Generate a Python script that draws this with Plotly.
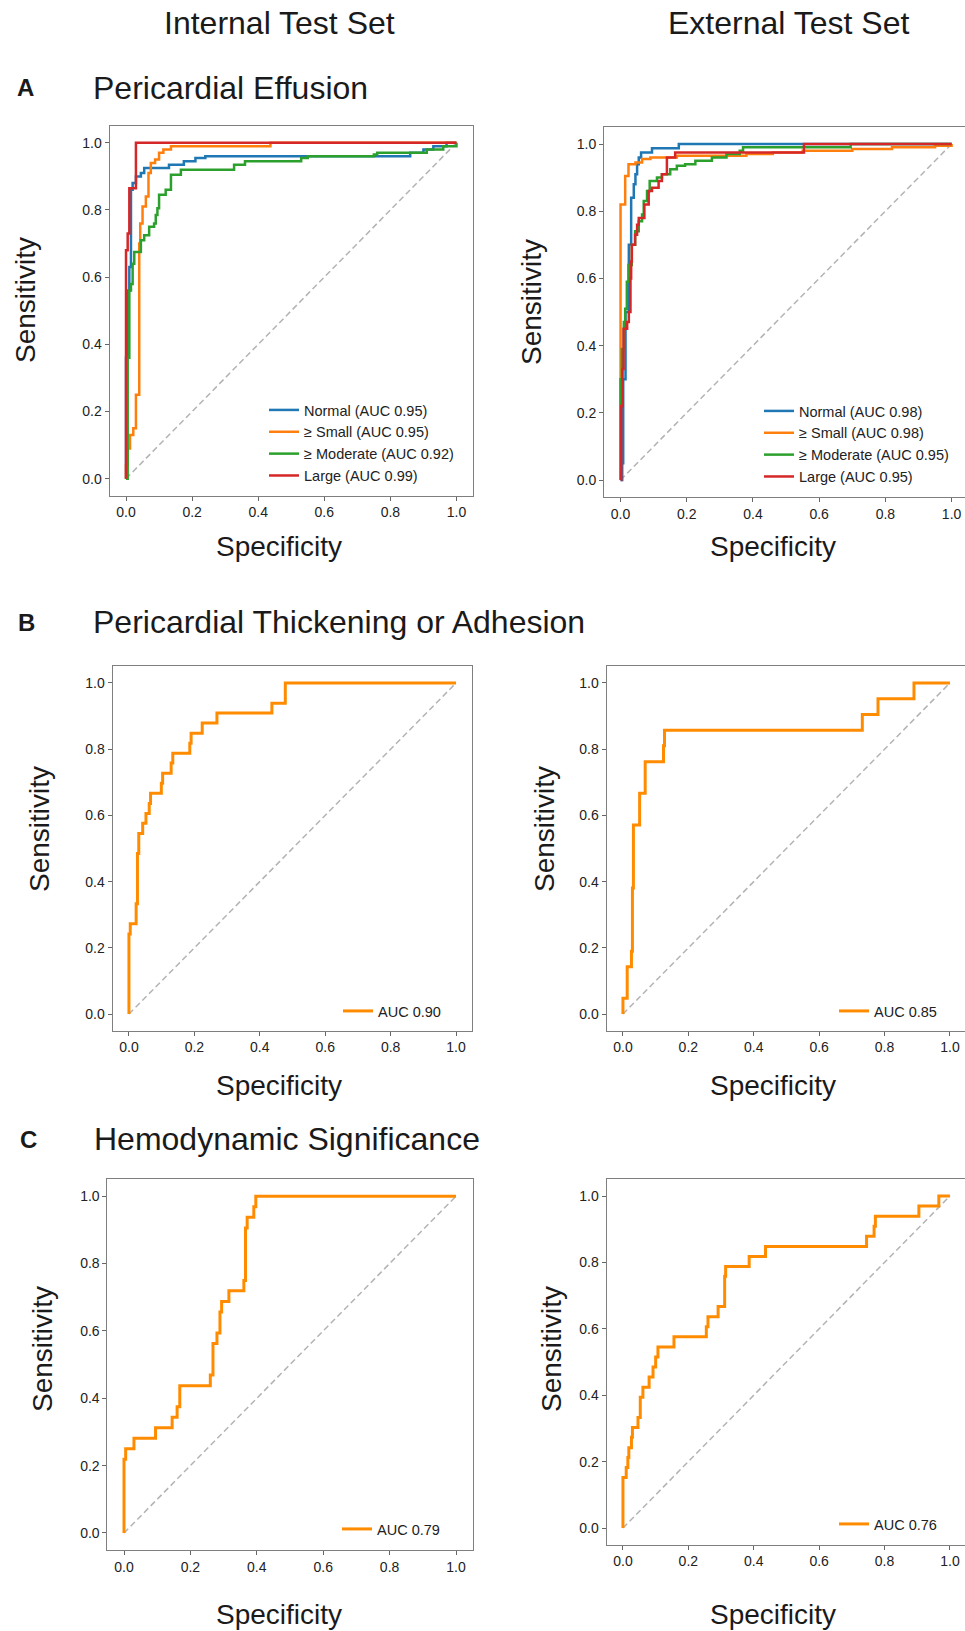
import plotly.graph_objects as go

# Positions below are given in window pixels; the page body margin is removed
# (post_script) so that the figure fills the 965x1631 window exactly.
OFF = 0
W, H = 965, 1631
FONT = "Liberation Sans, Arial, Helvetica, sans-serif"

# ---------------- data (ROC corner points, step 'hv') ----------------
# Panel A internal
a_int_normal_x = [0, 0, 0.005, 0.01, 0.015, 0.015, 0.02, 0.03, 0.045, 0.055, 0.13, 0.175, 0.21, 0.24, 0.86, 0.9, 0.93, 0.97, 1.0]
a_int_normal_y = [0, 0.36, 0.56, 0.63, 0.68, 0.86, 0.88, 0.90, 0.91, 0.925, 0.935, 0.945, 0.955, 0.96, 0.97, 0.98, 0.99, 1.0, 1.0]
a_int_small_x = [0, 0, 0.005, 0.012, 0.022, 0.03, 0.04, 0.043, 0.05, 0.06, 0.068, 0.075, 0.088, 0.1, 0.113, 0.136, 0.437, 1.0]
a_int_small_y = [0, 0.04, 0.09, 0.13, 0.15, 0.25, 0.70, 0.76, 0.81, 0.84, 0.91, 0.94, 0.95, 0.97, 0.98, 0.99, 1.0, 1.0]
a_int_mod_x = [0, 0.005, 0.01, 0.015, 0.02, 0.025, 0.045, 0.055, 0.07, 0.085, 0.09, 0.095, 0.1, 0.12, 0.136, 0.166, 0.327, 0.36, 0.53, 0.55, 0.75, 0.76, 0.91, 0.96, 1.0]
a_int_mod_y = [0, 0.36, 0.56, 0.58, 0.64, 0.675, 0.71, 0.725, 0.75, 0.76, 0.785, 0.805, 0.845, 0.86, 0.905, 0.92, 0.935, 0.945, 0.955, 0.96, 0.965, 0.97, 0.98, 0.99, 1.0]
a_int_large_x = [0, 0, 0.005, 0.01, 0.03, 1.0]
a_int_large_y = [0, 0.68, 0.73, 0.865, 1.0, 1.0]

# Panel A external
a_ext_normal_x = [0, 0.005, 0.008, 0.015, 0.025, 0.032, 0.04, 0.045, 0.05, 0.055, 0.062, 0.095, 0.176, 1.0]
a_ext_normal_y = [0, 0.05, 0.30, 0.50, 0.70, 0.84, 0.88, 0.91, 0.94, 0.96, 0.975, 0.987, 1.0, 1.0]
a_ext_small_x = [0, 0, 0.014, 0.024, 0.045, 0.065, 0.09, 0.17, 0.38, 0.46, 0.55, 0.7, 0.82, 0.95, 1.0]
a_ext_small_y = [0, 0.82, 0.905, 0.94, 0.945, 0.955, 0.96, 0.965, 0.97, 0.975, 0.98, 0.985, 0.99, 0.995, 1.0]
a_ext_mod_x = [0, 0, 0.004, 0.01, 0.014, 0.019, 0.024, 0.034, 0.044, 0.055, 0.065, 0.07, 0.08, 0.088, 0.11, 0.125, 0.15, 0.17, 0.195, 0.226, 0.276, 0.32, 0.36, 0.37, 0.695, 1.0]
a_ext_mod_y = [0, 0.30, 0.39, 0.47, 0.51, 0.59, 0.64, 0.70, 0.74, 0.77, 0.79, 0.83, 0.86, 0.89, 0.90, 0.91, 0.925, 0.935, 0.94, 0.95, 0.96, 0.97, 0.98, 0.99, 1.0, 1.0]
a_ext_large_x = [0, 0.002, 0.006, 0.009, 0.02, 0.025, 0.03, 0.032, 0.034, 0.044, 0.05, 0.055, 0.072, 0.085, 0.095, 0.115, 0.125, 0.14, 0.165, 0.554, 1.0]
a_ext_large_y = [0, 0.22, 0.33, 0.45, 0.47, 0.50, 0.60, 0.65, 0.70, 0.73, 0.76, 0.78, 0.82, 0.86, 0.87, 0.89, 0.91, 0.96, 0.975, 1.0, 1.0]

# Panel B
b_int_x = [0, 0, 0.004, 0.022, 0.026, 0.03, 0.042, 0.052, 0.062, 0.066, 0.099, 0.103, 0.129, 0.134, 0.186, 0.19, 0.224, 0.269, 0.437, 0.478, 1.0]
b_int_y = [0, 0.242, 0.273, 0.333, 0.485, 0.545, 0.576, 0.606, 0.636, 0.667, 0.697, 0.727, 0.758, 0.788, 0.818, 0.848, 0.879, 0.909, 0.939, 1.0, 1.0]
b_ext_x = [0, 0, 0.013, 0.026, 0.029, 0.032, 0.051, 0.068, 0.124, 0.127, 0.732, 0.78, 0.89, 1.0]
b_ext_y = [0, 0.048, 0.143, 0.190, 0.381, 0.571, 0.667, 0.762, 0.810, 0.857, 0.905, 0.952, 1.0, 1.0]

# Panel C
c_int_x = [0, 0, 0.005, 0.03, 0.095, 0.145, 0.16, 0.168, 0.26, 0.268, 0.28, 0.289, 0.294, 0.316, 0.361, 0.366, 0.371, 0.391, 0.397, 1.0]
c_int_y = [0, 0.219, 0.25, 0.281, 0.3125, 0.344, 0.375, 0.4375, 0.469, 0.5625, 0.594, 0.656, 0.6875, 0.719, 0.75, 0.906, 0.9375, 0.969, 1.0, 1.0]
c_ext_x = [0, 0, 0.01, 0.015, 0.018, 0.026, 0.029, 0.046, 0.053, 0.061, 0.08, 0.092, 0.1, 0.107, 0.156, 0.255, 0.26, 0.291, 0.311, 0.314, 0.386, 0.436, 0.745, 0.768, 0.772, 0.905, 0.966, 1.0]
c_ext_y = [0, 0.152, 0.182, 0.212, 0.242, 0.273, 0.303, 0.333, 0.394, 0.424, 0.455, 0.485, 0.515, 0.545, 0.576, 0.606, 0.636, 0.667, 0.758, 0.788, 0.818, 0.848, 0.879, 0.909, 0.939, 0.970, 1.0, 1.0]

a_labels_int = ["Normal (AUC 0.95)", "\u2265 Small (AUC 0.95)", "\u2265 Moderate (AUC 0.92)", "Large (AUC 0.99)"]
a_labels_ext = ["Normal (AUC 0.98)", "\u2265 Small (AUC 0.98)", "\u2265 Moderate (AUC 0.95)", "Large (AUC 0.95)"]
b_labels = ["AUC 0.90", "AUC 0.85"]
c_labels = ["AUC 0.79", "AUC 0.76"]

col_titles = ["Internal Test Set", "External Test Set"]
row_letters = ["A", "B", "C"]
row_titles = ["Pericardial Effusion", "Pericardial Thickening or Adhesion", "Hemodynamic Significance"]
tick_vals = [0.0, 0.2, 0.4, 0.6, 0.8, 1.0]
tick_text = ["0.0", "0.2", "0.4", "0.6", "0.8", "1.0"]
diag = [0.0, 1.0]

TAB = ["#1f77b4", "#ff7f0e", "#2ca02c", "#d62728"]
ORANGE = "#ff8c00"


def px_x(v):
    return (v - OFF) / W


def px_y(v):
    return 1 - (v - OFF) / H


# ---------------- layout geometry (window pixels) ----------------
# (left, right, top, bottom, xmax)
panels = {
    "A1": (109.5, 473.0, 126.0, 495.5, 1.05),
    "A2": (604.0, 964.5, 127.2, 496.8, 1.039),
    "B1": (112.6, 472.4, 666.4, 1030.6, 1.05),
    "B2": (606.6, 964.5, 666.4, 1030.6, 1.0445),
    "C1": (107.4, 472.6, 1179.4, 1549.8, 1.05),
    "C2": (606.6, 964.5, 1179.4, 1544.6, 1.0445),
}

fig = go.Figure()
keys = list(panels.keys())
for i, k in enumerate(keys):
    l, r, t, b, xmax = panels[k]
    sfx = "" if i == 0 else str(i + 1)
    common = dict(tickvals=tick_vals, ticktext=tick_text, ticks="outside", ticklen=4,
                  tickcolor="#666666", showline=True, linecolor="#7f7f7f", linewidth=1,
                  mirror=True, showgrid=False, zeroline=False,
                  tickfont=dict(family=FONT, size=14, color="#222222"))
    fig.layout["xaxis" + sfx] = dict(domain=[px_x(l), min(1.0, px_x(r))], range=[-0.05, xmax],
                                     anchor="y" + sfx, **common)
    fig.layout["yaxis" + sfx] = dict(domain=[px_y(b), px_y(t)], range=[-0.05, 1.05],
                                     anchor="x" + sfx, **common)


def axn(i):
    return ("x" if i == 0 else "x" + str(i + 1)), ("y" if i == 0 else "y" + str(i + 1))


def add_diag(i):
    xa, ya = axn(i)
    fig.add_trace(go.Scatter(x=diag, y=diag, mode="lines", xaxis=xa, yaxis=ya,
                             line=dict(color="#b3b3b3", width=1.5, dash="6px,3.5px"),
                             showlegend=False, hoverinfo="skip"))


def add_curve(i, x, y, name, color, width, legend):
    xa, ya = axn(i)
    fig.add_trace(go.Scatter(x=x, y=y, mode="lines", name=name, xaxis=xa, yaxis=ya,
                             line=dict(color=color, width=width, shape="hv"),
                             legend=legend, showlegend=True))


# Panel A
add_diag(0)
for (xx, yy), nm, c in zip([(a_int_normal_x, a_int_normal_y), (a_int_small_x, a_int_small_y),
                            (a_int_mod_x, a_int_mod_y), (a_int_large_x, a_int_large_y)], a_labels_int, TAB):
    add_curve(0, xx, yy, nm, c, 2.5, "legend")
add_diag(1)
for (xx, yy), nm, c in zip([(a_ext_normal_x, a_ext_normal_y), (a_ext_small_x, a_ext_small_y),
                            (a_ext_mod_x, a_ext_mod_y), (a_ext_large_x, a_ext_large_y)], a_labels_ext, TAB):
    add_curve(1, xx, yy, nm, c, 2.5, "legend2")
# Panel B
add_diag(2)
add_curve(2, b_int_x, b_int_y, b_labels[0], ORANGE, 3, "legend3")
add_diag(3)
add_curve(3, b_ext_x, b_ext_y, b_labels[1], ORANGE, 3, "legend4")
# Panel C
add_diag(4)
add_curve(4, c_int_x, c_int_y, c_labels[0], ORANGE, 3, "legend5")
add_diag(5)
add_curve(5, c_ext_x, c_ext_y, c_labels[1], ORANGE, 3, "legend6")

# legends: (left px, top px) in window pixels
leg_pos = [(264, 394), (759, 395), (338, 995), (834, 995), (337, 1513), (834, 1508)]
leg_font = dict(family=FONT, size=14.5, color="#222222")
for j, (lx, ty) in enumerate(leg_pos):
    name = "legend" if j == 0 else "legend" + str(j + 1)
    fig.layout[name] = dict(x=px_x(lx), y=px_y(ty), xanchor="left", yanchor="top",
                            bgcolor="rgba(0,0,0,0)", borderwidth=0, font=leg_font,
                            tracegroupgap=0, itemwidth=30)

ann = []


def text(x, y, s, size, bold=False, xanchor="center", angle=0):
    ann.append(dict(x=px_x(x), y=px_y(y), xref="paper", yref="paper",
                    text=("<b>%s</b>" % s if bold else s),
                    showarrow=False, xanchor=xanchor, yanchor="middle", textangle=angle,
                    font=dict(family=FONT, size=size, color="#1a1a1a")))


text(279, 23, col_titles[0], 32)
text(788, 23, col_titles[1], 32)
for (lx, ly), letter in zip([(25, 88), (26, 622), (28, 1139)], row_letters):
    text(lx, ly, letter, 24, bold=True)
for (tx, ty), ttl in zip([(91, 88), (91, 622), (92, 1139)], row_titles):
    text(tx, ty, ttl, 32, xanchor="left")
for sy in [546, 1085, 1614]:
    text(279, sy, "Specificity", 28)
    text(773, sy, "Specificity", 28)
for (sx, sy) in [(26, 300), (532, 302), (40, 829), (545, 829), (42, 1349), (551, 1349)]:
    text(sx, sy, "Sensitivity", 28, angle=-90)

fig.update_layout(width=W, height=H, margin=dict(l=0, r=0, t=0, b=0),
                  paper_bgcolor="white", plot_bgcolor="white", annotations=ann,
                  font=dict(family=FONT))

fig.write_html("out.html", config={"displayModeBar": False},
               post_script="document.body.style.margin='0';document.body.style.overflow='hidden';")
